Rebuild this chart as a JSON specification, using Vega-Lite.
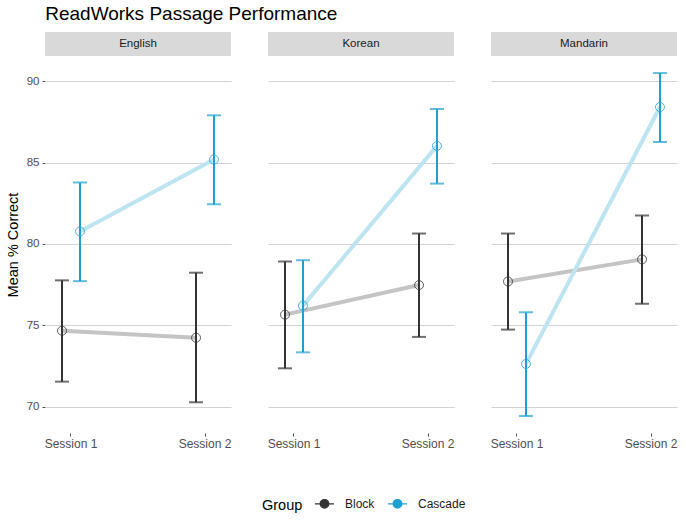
{
  "$schema": "https://vega.github.io/schema/vega-lite/v6.json",
  "background": "white",
  "padding": {"left": 5, "top": 5, "right": 7, "bottom": 5},
  "title": {"text": "ReadWorks Passage Performance", "anchor": "start", "fontSize": 19, "fontWeight": "normal", "font": "Liberation Sans", "color": "#000000", "offset": 8, "dx": 40},
  "data": {"values": [
    {"Language": "English", "Session": "Session 1", "Group": "Block", "mean": 74.66, "lo": 71.53, "hi": 77.76},
    {"Language": "English", "Session": "Session 2", "Group": "Block", "mean": 74.23, "lo": 70.26, "hi": 78.23},
    {"Language": "English", "Session": "Session 1", "Group": "Cascade", "mean": 80.77, "lo": 77.71, "hi": 83.78},
    {"Language": "English", "Session": "Session 2", "Group": "Cascade", "mean": 85.19, "lo": 82.44, "hi": 87.91},
    {"Language": "Korean", "Session": "Session 1", "Group": "Block", "mean": 75.65, "lo": 72.35, "hi": 78.92},
    {"Language": "Korean", "Session": "Session 2", "Group": "Block", "mean": 77.47, "lo": 74.28, "hi": 80.64},
    {"Language": "Korean", "Session": "Session 1", "Group": "Cascade", "mean": 76.2, "lo": 73.33, "hi": 79.0},
    {"Language": "Korean", "Session": "Session 2", "Group": "Cascade", "mean": 86.03, "lo": 83.71, "hi": 88.3},
    {"Language": "Mandarin", "Session": "Session 1", "Group": "Block", "mean": 77.69, "lo": 74.73, "hi": 80.64},
    {"Language": "Mandarin", "Session": "Session 2", "Group": "Block", "mean": 79.05, "lo": 76.32, "hi": 81.75},
    {"Language": "Mandarin", "Session": "Session 1", "Group": "Cascade", "mean": 72.62, "lo": 69.42, "hi": 75.79},
    {"Language": "Mandarin", "Session": "Session 2", "Group": "Cascade", "mean": 88.42, "lo": 86.27, "hi": 90.51}
  ]},
  "facet": {"column": {"field": "Language", "type": "nominal", "header": {"labels": false, "title": null, "labelPadding": 0, "titlePadding": 0}}},
  "spacing": 37,
  "spec": {
    "width": 186,
    "height": 377,
    "encoding": {
      "x": {"field": "Session", "type": "nominal", "scale": {"type": "band", "paddingInner": 0.866, "paddingOuter": 0.127}, "axis": {"title": null}},
      "xOffset": {"field": "Group", "type": "nominal", "scale": {"type": "point", "padding": 0}}
    },
    "layer": [
      {
        "transform": [{"filter": "datum.Session == 'Session 1' && datum.Group == 'Block'"}],
        "mark": {"type": "rect", "color": "#d9d9d9", "x": 0, "x2": {"expr": "child_width"}, "y": -24, "y2": 0},
        "encoding": {"x": null, "xOffset": null}
      },
      {
        "transform": [{"filter": "datum.Session == 'Session 1' && datum.Group == 'Block'"}],
        "mark": {"type": "text", "x": {"expr": "child_width / 2"}, "y": -12, "fontSize": 11.5, "color": "#1a1a1a", "baseline": "middle", "align": "center", "font": "Liberation Sans"},
        "encoding": {"x": null, "xOffset": null, "text": {"field": "Language"}}
      },
      {
        "mark": {"type": "line", "strokeWidth": 4},
        "encoding": {
          "y": {"field": "mean", "type": "quantitative", "scale": {"domain": [68.37, 91.56], "zero": false, "nice": false}, "axis": {"title": "Mean % Correct", "values": [70, 75, 80, 85, 90]}},
          "stroke": {"field": "Group", "type": "nominal", "scale": {"range": ["#c4c4c4", "#bde4f1"]}, "legend": null}
        }
      },
      {
        "mark": {"type": "rule", "strokeWidth": 2},
        "encoding": {
          "y": {"field": "lo", "type": "quantitative", "title": "Mean % Correct"},
          "y2": {"field": "hi"},
          "color": {"field": "Group", "type": "nominal", "legend": {"symbolFillColor": "transparent", "encode": {"symbols": {"update": {"fill": {"value": "transparent"}}}, "title": {"update": {"dy": {"value": 4}}}}}}
        }
      },
      {
        "mark": {"type": "tick", "thickness": 2, "size": 14, "orient": "horizontal"},
        "encoding": {
          "y": {"field": "lo", "type": "quantitative", "title": "Mean % Correct"},
          "color": {"field": "Group", "type": "nominal", "legend": {"symbolFillColor": "transparent", "encode": {"symbols": {"update": {"fill": {"value": "transparent"}}}, "title": {"update": {"dy": {"value": 4}}}}}}
        }
      },
      {
        "mark": {"type": "tick", "thickness": 2, "size": 14, "orient": "horizontal"},
        "encoding": {
          "y": {"field": "hi", "type": "quantitative", "title": "Mean % Correct"},
          "color": {"field": "Group", "type": "nominal", "legend": {"symbolFillColor": "transparent", "encode": {"symbols": {"update": {"fill": {"value": "transparent"}}}, "title": {"update": {"dy": {"value": 4}}}}}}
        }
      },
      {
        "mark": {"type": "point", "filled": false, "size": 80, "strokeWidth": 0.8, "opacity": 1},
        "encoding": {
          "y": {"field": "mean", "type": "quantitative", "title": "Mean % Correct"},
          "color": {"field": "Group", "type": "nominal", "legend": {"symbolFillColor": "transparent", "encode": {"symbols": {"update": {"fill": {"value": "transparent"}}}, "title": {"update": {"dy": {"value": 4}}}}}}
        }
      }
    ]
  },
  "config": {
    "font": "Liberation Sans",
    "view": {"stroke": null},
    "range": {"category": ["#333333", "#1f9fd0"]},
    "axisX": {"domain": false, "grid": false, "labelAngle": 0, "labelFontSize": 12, "labelColor": "#4d4d4d", "tickColor": "#4d4d4d", "tickSize": 3, "labelPadding": 2},
    "axisY": {"domain": false, "grid": true, "gridColor": "#d3d3d3", "labelFontSize": 11.5, "labelColor": "#4d4d4d", "tickColor": "#4d4d4d", "tickSize": 3, "labelPadding": 3, "titleFontSize": 14.5, "titleFontWeight": "normal", "titleColor": "#000000", "titlePadding": 6},
    "legend": {"orient": "none", "legendX": 217, "legendY": 437, "direction": "horizontal", "titleOrient": "left", "titleFontSize": 14.5, "titleFontWeight": "normal", "titleColor": "#000000", "titlePadding": 11, "labelFontSize": 12, "labelColor": "#1a1a1a", "labelOffset": 10, "columnPadding": 10, "symbolType": "M-1,0L1,0M0.45,0A0.45,0.45,0,1,1,-0.45,0A0.45,0.45,0,1,1,0.45,0Z", "symbolSize": 361, "symbolStrokeWidth": 1.3, "symbolFillColor": "transparent"}
  }
}
